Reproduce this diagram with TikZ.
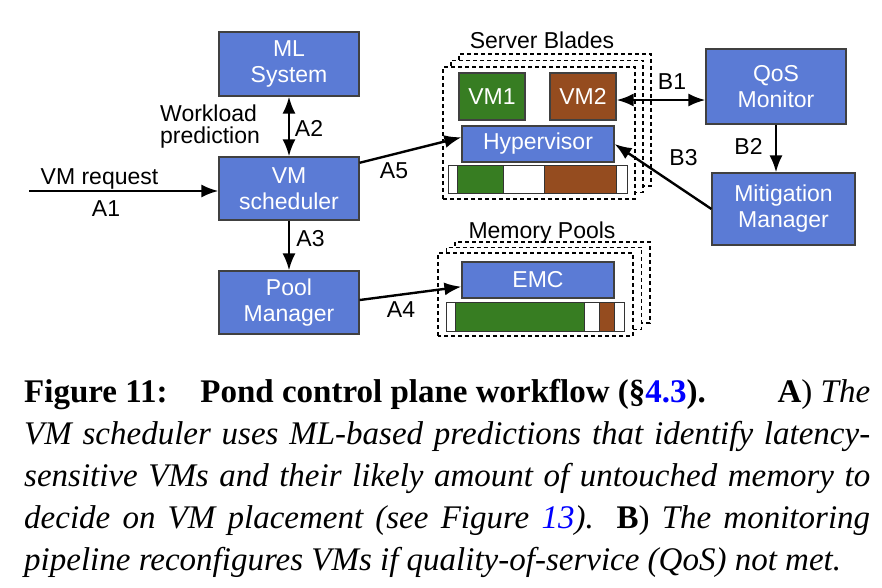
\documentclass[tikz,border=0pt]{standalone}
\usepackage{fontspec}
\usepackage{xcolor}
\usetikzlibrary{arrows.meta}
\newfontfamily\diagfont{Liberation Sans}
\newfontfamily\capfont{Liberation Serif}
\definecolor{boxblue}{HTML}{5B7BD5}
\definecolor{vmgreen}{HTML}{377D22}
\definecolor{vmbrown}{HTML}{954C1F}

\begin{document}
\begin{tikzpicture}[x=1pt, y=1pt,
    >={Latex[length=17pt,width=13pt]},
    box/.style={draw=black!75, line width=1.2pt, fill=boxblue, text=white, align=center, inner sep=0pt, font=\diagfont\fontsize{23}{26}\selectfont},
    lbl/.style={anchor=base, inner sep=0pt, font=\diagfont\fontsize{23}{26}\selectfont},
    flow/.style={line width=2.4pt, ->},
    twoway/.style={line width=2.4pt, <->},
    frame/.style={draw, fill=white, line width=1.1pt, dash pattern=on 4pt off 3pt},
    seg/.style={draw=black!80, line width=1pt}]
        % Page size
        \useasboundingbox (0,0) rectangle (882,588);
        \def\bw{140}
        \def\lw{846}

        % Left column
        \node[box, minimum width=\bw pt, minimum height=64pt] (ml) at (289,524) {ML\\System};
        \node[box, minimum width=\bw pt, minimum height=63pt] (vmsched) at (289,399.5) {VM\\scheduler};
        \node[box, minimum width=\bw pt, minimum height=63pt] (pool) at (289,285.5) {Pool\\Manager};

        % Server blades (stacked dashed frames)
        \foreach \d in {2,1,0}
            \draw[frame] (443+8*\d,389+6.5*\d) rectangle (635+8*\d,521+6.5*\d);
        \node[lbl] (blades) at (542,539.7) {Server Blades};
        \node[box, fill=vmgreen, minimum width=66pt, minimum height=47pt] (vm1) at (492,491.5) {VM1};
        \node[box, fill=vmbrown, minimum width=66pt, minimum height=47pt] (vm2) at (583,491.5) {VM2};
        \node[box, minimum width=152pt, minimum height=36pt] (hyper) at (538,444) {Hypervisor};
        \draw[seg, fill=white] (448,394) rectangle (627,422);
        \draw[seg, fill=vmgreen] (457,394) rectangle (503,422);
        \draw[seg, fill=vmbrown] (544,394) rectangle (616,422);

        % Memory pools
        \foreach \d in {2,1,0}
            \draw[frame] (438+8.5*\d,252+6.5*\d) rectangle (633+8.5*\d,335+5.5*\d);
        \node[lbl] (pools) at (542,349.7) {Memory Pools};
        \node[box, minimum width=152pt, minimum height=36pt] (emc) at (538,308) {EMC};
        \draw[seg, fill=white] (446,256) rectangle (624,285);
        \draw[seg, fill=vmgreen] (455,256) rectangle (584,285);
        \draw[seg, fill=vmbrown] (599,256) rectangle (614,285);

        % Monitoring side
        \node[box, minimum width=\bw pt, minimum height=75pt] (qos) at (776,501.5) {QoS\\Monitor};
        \node[box, minimum width=143pt, minimum height=72pt] (mitig) at (783.5,379) {Mitigation\\Manager};

        % A arrows
        \coordinate (req) at (29,397);
        \draw[flow] (req) -- (req -| vmsched.west);
        \node[lbl] (reqlbl) at (99.5,403.7) {VM request};
        \node[lbl] (a1) at (106,371.3) {A1};
        \draw[twoway] (ml.south) -- (vmsched.north);
        \node[lbl, anchor=base west, align=left, font=\diagfont\fontsize{23}{22.5}\selectfont] (wl) at (160,444) {Workload\\prediction};
        \node[lbl] (a2) at (309,451.3) {A2};
        \draw[flow] (vmsched.south) -- (pool.north);
        \node[lbl] (a3) at (310.5,341.3) {A3};
        \draw[flow] (pool.2) -- (emc.185);
        \node[lbl] (a4) at (401,270.3) {A4};
        \draw[flow] (vmsched.20) -- (hyper.175);
        \node[lbl] (a5) at (394,409) {A5};

        % B arrows
        \draw[twoway] (vm2.-6) -- (vm2.-6 -| qos.west);
        \node[lbl] (b1) at (672,498) {B1};
        \draw[flow] (qos.south) -- (qos.south |- mitig.north);
        \node[lbl] (b2) at (748.5,433) {B2};
        \draw[flow] (mitig.west) -- (hyper.east);
        \node[lbl] (b3) at (683.5,422) {B3};

        % Caption (base = last line)
        \node[anchor=base west, inner sep=0pt, align=left, font=\capfont\fontsize{33}{42}\selectfont] (caption) at (24,17) {%
            \makebox[\lw pt][s]{\bfseries Figure 11:\hspace{1em}Pond control plane workflow (§\textcolor{blue}{4.3}).\hfill A\mdseries) \itshape The}\\
            \makebox[\lw pt][s]{\itshape VM scheduler uses ML-based predictions that identify latency-}\\
            \makebox[\lw pt][s]{\itshape sensitive VMs and their likely amount of untouched memory to}\\
            \makebox[\lw pt][s]{\itshape decide on VM placement (see Figure \textcolor{blue}{13}). \upshape\bfseries B\mdseries) \itshape The monitoring}\\
            {\itshape pipeline reconfigures VMs if quality-of-service (QoS) not met.}};
      \end{tikzpicture}
\end{document}
